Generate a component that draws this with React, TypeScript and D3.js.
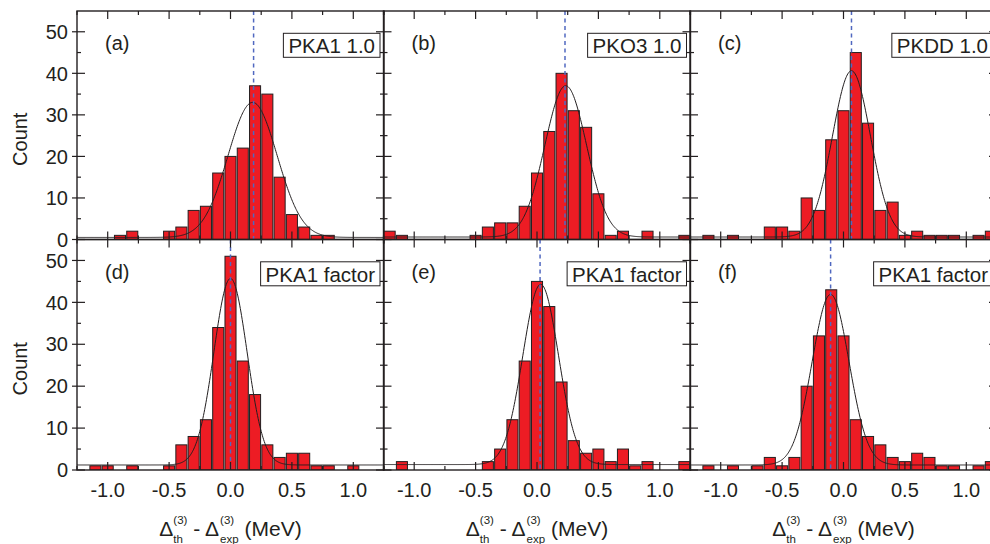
import React from "react";
import * as d3 from "d3";

// ---------- data ----------
const binCenters = [-1.2, -1.1, -1.0, -0.9, -0.8, -0.7, -0.6, -0.5, -0.4, -0.3, -0.2, -0.1, 0.0, 0.1, 0.2, 0.3, 0.4, 0.5, 0.6, 0.7, 0.8, 0.9, 1.0, 1.1, 1.2];
const countsA = [0, 0, 0, 1, 2, 0, 0, 2, 3, 7, 8, 16, 20, 22, 37, 35, 15, 6, 3, 1, 1, 0, 0, 0, 0];
const countsB = [2, 1, 0, 0, 0, 0, 0, 1, 3, 4, 4, 8, 16, 26, 40, 31, 27, 11, 1, 2, 0, 2, 0, 0, 1];
const countsC = [0, 1, 0, 1, 0, 0, 3, 3, 2, 10, 7, 24, 31, 45, 28, 7, 9, 1, 2, 1, 1, 1, 0, 1, 2];
const countsD = [0, 1, 1, 0, 1, 0, 0, 1, 6, 8, 12, 34, 51, 26, 18, 6, 3, 4, 4, 1, 1, 0, 1, 0, 0];
const countsE = [0, 2, 0, 0, 0, 0, 0, 0, 2, 5, 12, 26, 45, 39, 21, 7, 4, 5, 2, 5, 1, 2, 0, 0, 2];
const countsF = [0, 1, 0, 1, 0, 1, 3, 1, 3, 20, 32, 43, 32, 12, 8, 6, 3, 2, 4, 3, 1, 1, 0, 1, 2];

const panelLabels = ["(a)", "(b)", "(c)", "(d)", "(e)", "(f)"];
const modelLabels = ["PKA1 1.0", "PKO3 1.0", "PKDD 1.0", "PKA1 factor", "PKA1 factor", "PKA1 factor"];

// Gaussian fit parameters (center, amplitude, sigma, baseline)
const fitCenters = [0.18, 0.234, 0.065, 0.0, 0.03, -0.105];
const fitAmps = [32.5, 36.4, 40.0, 44.5, 43.0, 40.7];
const fitSigmas = [0.2, 0.17, 0.155, 0.135, 0.145, 0.15];
const fitBases = [0.5, 0.6, 0.6, 1.2, 1.3, 1.2];
// dashed mean lines
const meanLines = [0.188, 0.228, 0.065, 0.0, 0.025, -0.105];

const xTicks = [-1.0, -0.5, 0.0, 0.5, 1.0];
const xTickLabels = ["-1.0", "-0.5", "0.0", "0.5", "1.0"];
const xMinorTicks = [-1.25, -0.75, -0.25, 0.25, 0.75, 1.25];
const yTicks = [0, 10, 20, 30, 40, 50];
const yMinorTicks = [5, 15, 25, 35, 45];
const xDomain = [-1.25, 1.25];
const yDomain = [0, 55];
const binWidth = 0.1;

const allCounts = [countsA, countsB, countsC, countsD, countsE, countsF];

// ---------- layout ----------
const W = 990;
const H = 544;
const colLefts = [77, 383.5, 690];
const panelW = 307;
const rowTops = [11, 239.5];
const rowBottoms = [239.5, 470];
const FONT = '"Liberation Sans", Arial, Helvetica, sans-serif';
const INK = "#231f20";
const RED = "#ed1c24";
const BLUE = "#5068c0";

let _ctx: CanvasRenderingContext2D | null = null;
function textW(s: string, size: number): number {
  if (!_ctx) _ctx = document.createElement("canvas").getContext("2d");
  if (!_ctx) return s.length * size * 0.55;
  _ctx.font = `${size}px "Liberation Sans"`;
  return _ctx.measureText(s).width;
}

function AxisTitle({ cx }: { cx: number }) {
  const big = 21;
  const small = 11.5;
  const base = 535.5;
  const supY = 523.5;
  const subY = 543;
  const parts: { kind: "big" | "pair"; t?: string; sup?: string; sub?: string }[] = [
    { kind: "big", t: "Δ" },
    { kind: "pair", sup: "(3)", sub: "th" },
    { kind: "big", t: " - Δ" },
    { kind: "pair", sup: "(3)", sub: "exp" },
    { kind: "big", t: " (MeV)" },
  ];
  const widths = parts.map((p) =>
    p.kind === "big" ? textW(p.t!, big) : Math.max(textW(p.sup!, small), textW(p.sub!, small))
  );
  const total = widths.reduce((a, b) => a + b, 0);
  let x = cx - total / 2;
  const els: React.ReactNode[] = [];
  parts.forEach((p, i) => {
    if (p.kind === "big") {
      els.push(
        <text key={i} x={x} y={base} fontSize={big} fontFamily={FONT} fill={INK} style={{ whiteSpace: "pre" }}>
          {p.t}
        </text>
      );
    } else {
      els.push(
        <text key={i + "s"} x={x} y={supY} fontSize={small} fontFamily={FONT} fill={INK}>
          {p.sup}
        </text>
      );
      els.push(
        <text key={i + "b"} x={x} y={subY} fontSize={small} fontFamily={FONT} fill={INK}>
          {p.sub}
        </text>
      );
    }
    x += widths[i];
  });
  return <g>{els}</g>;
}

function Panel({ idx }: { idx: number }) {
  const col = idx % 3;
  const row = Math.floor(idx / 3);
  const left = colLefts[col];
  const right = left + panelW;
  const top = rowTops[row];
  const bottom = rowBottoms[row];
  const x = d3.scaleLinear().domain(xDomain).range([left, right]);
  const y = d3.scaleLinear().domain(yDomain).range([bottom, top]);
  const counts = allCounts[idx];
  const bw = (x(binWidth) - x(0)) * 0.9;

  const mu = fitCenters[idx];
  const A = fitAmps[idx];
  const s = fitSigmas[idx];
  const b = fitBases[idx];
  const pts = d3.range(xDomain[0], xDomain[1] + 1e-9, 0.005).map((v) => [v, b + A * Math.exp(-((v - mu) ** 2) / (2 * s * s))] as [number, number]);
  const line = d3
    .line<[number, number]>()
    .x((d) => x(d[0]))
    .y((d) => y(d[1]))
    .curve(d3.curveLinear);

  const majTick = 8;
  const minTick = 4;
  const label = modelLabels[idx];
  const lblSize = 20.5;
  const lblW = textW(label, lblSize);
  const boxRight = right - 4;
  const boxW = lblW + 10;
  const boxTop = top + 22.3;

  return (
    <g>
      <defs>
        <clipPath id={`clip${idx}`}>
          <rect x={left} y={top} width={panelW} height={bottom - top} />
        </clipPath>
      </defs>
      <g clipPath={`url(#clip${idx})`}>
        {counts.map((c, i) =>
          c > 0 ? (
            <rect
              key={i}
              x={x(binCenters[i]) - bw / 2}
              y={y(c)}
              width={bw}
              height={y(0) - y(c)}
              fill={RED}
              stroke={INK}
              strokeWidth={1}
            />
          ) : null
        )}
        <path d={line(pts) || ""} fill="none" stroke={INK} strokeWidth={1} />
        <line
          x1={x(meanLines[idx])}
          x2={x(meanLines[idx])}
          y1={top}
          y2={bottom}
          stroke={BLUE}
          strokeWidth={1.5}
          strokeDasharray="4 3.5"
        />
      </g>
      {/* frame */}
      <rect x={left} y={top} width={panelW} height={bottom - top} fill="none" stroke={INK} strokeWidth={1.4} />
      {/* x ticks top & bottom */}
      {xTicks.map((t, i) => (
        <g key={"xt" + i}>
          <line x1={x(t)} x2={x(t)} y1={top} y2={top + majTick} stroke={INK} strokeWidth={1.2} />
          <line x1={x(t)} x2={x(t)} y1={bottom} y2={bottom - majTick} stroke={INK} strokeWidth={1.2} />
        </g>
      ))}
      {xMinorTicks.map((t, i) => (
        <g key={"xm" + i}>
          <line x1={x(t)} x2={x(t)} y1={top} y2={top + minTick} stroke={INK} strokeWidth={1.2} />
          <line x1={x(t)} x2={x(t)} y1={bottom} y2={bottom - minTick} stroke={INK} strokeWidth={1.2} />
        </g>
      ))}
      {/* y ticks left & right */}
      {yTicks.map((t, i) => (
        <g key={"yt" + i}>
          <line x1={left - (col === 0 ? 5 : 0)} x2={left + majTick} y1={y(t)} y2={y(t)} stroke={INK} strokeWidth={1.2} />
          <line x1={right} x2={right - majTick} y1={y(t)} y2={y(t)} stroke={INK} strokeWidth={1.2} />
        </g>
      ))}
      {yMinorTicks.map((t, i) => (
        <g key={"ym" + i}>
          <line x1={left} x2={left + minTick} y1={y(t)} y2={y(t)} stroke={INK} strokeWidth={1.2} />
          <line x1={right} x2={right - minTick} y1={y(t)} y2={y(t)} stroke={INK} strokeWidth={1.2} />
        </g>
      ))}
      {/* y tick labels */}
      {col === 0 &&
        yTicks.map((t, i) => (
          <text key={"yl" + i} x={left - 9} y={y(t) + 7.2} textAnchor="end" fontSize={20} fontFamily={FONT} fill={INK}>
            {t}
          </text>
        ))}
      {col === 0 && (
        <text
          transform={`translate(${27},${(top + bottom) / 2 + 14}) rotate(-90)`}
          textAnchor="middle"
          fontSize={20}
          fontFamily={FONT}
          fill={INK}
        >
          Count
        </text>
      )}
      {/* x tick labels */}
      {row === 1 &&
        xTicks.map((t, i) => (
          <text key={"xl" + i} x={x(t)} y={497} textAnchor="middle" fontSize={20} fontFamily={FONT} fill={INK}>
            {xTickLabels[i]}
          </text>
        ))}
      {row === 1 && <AxisTitle cx={x(0)} />}
      {/* panel letter */}
      <text x={left + 28} y={top + 39} fontSize={20} fontFamily={FONT} fill={INK}>
        {panelLabels[idx]}
      </text>
      {/* model box */}
      <rect x={boxRight - boxW} y={boxTop} width={boxW} height={24} fill="#fff" stroke={INK} strokeWidth={1} />
      <text x={boxRight - 5} y={boxTop + 20} textAnchor="end" fontSize={lblSize} fontFamily={FONT} fill={INK}>
        {label}
      </text>
    </g>
  );
}

export default function App() {
  return (
    <svg
      width={W}
      height={H}
      viewBox={`0 0 ${W} ${H}`}
      style={{ position: "absolute", left: 0, top: 0, background: "#fff" }}
    >
      <rect x={0} y={0} width={W} height={H} fill="#fff" />
      {[0, 1, 2, 3, 4, 5].map((i) => (
        <Panel key={i} idx={i} />
      ))}
    </svg>
  );
}
